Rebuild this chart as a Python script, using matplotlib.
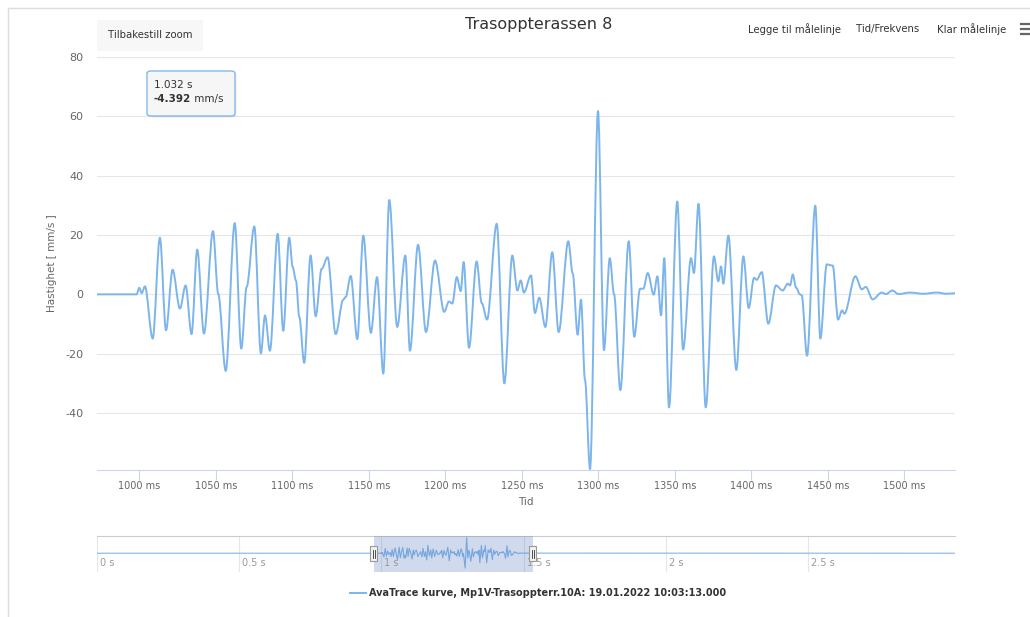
import matplotlib
matplotlib.use('Agg')
import matplotlib.pyplot as plt
from matplotlib.patches import Rectangle, FancyBboxPatch, PathPatch
from matplotlib.lines import Line2D
from matplotlib.path import Path
from matplotlib.text import Annotation
from matplotlib import transforms

plt.rcParams['axes.unicode_minus'] = False

W, H = 1030, 617

# trace (ms, mm/s)
time_ms = [972.4, 998.3, 1000.0, 1001.6, 1003.7, 1008.8, 1013.5, 1017.5, 1021.8, 1026.6,
           1030.3, 1034.2, 1037.9, 1042.3, 1048.2, 1051.6, 1056.5, 1062.4, 1066.7, 1070.2,
           1075.2, 1079.5, 1082.2, 1085.4, 1090.5, 1094.1, 1098.0, 1100.3, 1102.4, 1104.6,
           1107.8, 1112.0, 1115.3, 1119.2, 1123.1, 1128.4, 1133.3, 1134.9, 1138.2, 1142.5,
           1146.4, 1151.4, 1155.4, 1159.5, 1163.4, 1168.6, 1173.9, 1176.9, 1182.2, 1187.4,
           1193.3, 1199.3, 1202.4, 1204.6, 1207.5, 1210.1, 1212.0, 1215.5, 1220.5, 1223.8,
           1227.3, 1233.6, 1238.6, 1243.8, 1247.1, 1249.3, 1251.4, 1256.0, 1258.6, 1261.4,
           1265.4, 1269.9, 1274.1, 1280.4, 1283.3, 1286.5, 1288.7, 1291.3, 1294.6, 1299.8,
           1303.7, 1307.5, 1310.3, 1314.4, 1319.9, 1323.5, 1327.3, 1329.4, 1332.3, 1336.2,
           1338.6, 1341.0, 1343.1, 1346.2, 1351.6, 1355.4, 1360.6, 1362.5, 1365.5, 1370.2,
           1375.6, 1378.4, 1380.2, 1381.7, 1385.0, 1390.2, 1394.8, 1398.3, 1401.8, 1403.5,
           1406.8, 1411.1, 1416.1, 1420.5, 1423.8, 1425.3, 1427.1, 1429.2, 1431.8, 1432.9,
           1436.4, 1441.8, 1445.1, 1449.3, 1453.2, 1456.7, 1459.3, 1460.8, 1468.0, 1472.2,
           1474.8, 1479.3, 1485.2, 1488.0, 1492.2, 1496.1, 1503.7, 1512.4, 1521.2, 1527.7,
           1533.8]
velocity = [0.0, 0.0, 2.2, 0.4, 2.7, -14.9, 19.1, -12.1, 8.3, -4.8,
            3.0, -13.4, 15.1, -13.2, 21.3, 0.2, -25.8, 24.0, -18.3, 2.5,
            22.9, -19.9, -7.1, -19.0, 20.4, -12.3, 19.1, 9.2, 4.7, -7.6,
            -23.1, 13.1, -7.4, 8.6, 12.5, -13.4, -1.8, -0.9, 6.2, -15.1,
            19.8, -13.0, 5.8, -26.7, 31.8, -11.0, 13.1, -19.0, 16.7, -12.7,
            11.4, -5.9, -2.4, -3.1, 5.8, 1.1, 10.9, -18.0, 11.1, -2.9,
            -8.5, 23.8, -30.0, 13.1, 1.3, 4.7, 0.6, 6.4, -6.3, -1.1,
            -11.0, 14.2, -12.7, 17.9, 7.0, -13.6, -1.8, -28.9, -58.9, 61.8,
            -18.8, 12.2, 0.0, -32.3, 17.9, -14.3, 1.9, 1.9, 7.2, -0.1,
            6.1, -7.1, 12.2, -38.1, 31.3, -18.6, 12.2, 7.2, 30.5, -38.1,
            12.8, 4.4, 9.4, 3.6, 19.8, -25.5, 12.8, -4.6, 5.6, 4.9,
            7.5, -9.9, 3.0, 1.3, 3.6, 3.0, 6.7, 2.3, 0.0, -0.3,
            -20.7, 29.9, -14.9, 10.1, 9.7, -8.5, -5.4, -6.5, 6.1, 1.7,
            2.5, -1.7, 0.6, 0.1, 1.3, 0.1, 0.6, 0.2, 0.6, 0.2,
            0.4]

# whole record shown in the navigator (flat outside the zoomed window)
record_start = [0.0]
record_start_v = [0.0]
record_end = [3020.0]
record_end_v = [0.0]

view_ms = (972.4, 1533.1)
y_range = (-59.2, 80)
y_ticks = [-40, -20, 0, 20, 40, 60, 80]
x_ticks = [1000, 1050, 1100, 1150, 1200, 1250, 1300, 1350, 1400, 1450, 1500]
nav_ticks = [0, 500, 1000, 1500, 2000, 2500]

title = 'Trasoppterassen 8'
series_name = 'AvaTrace kurve, Mp1V-Trasoppterr.10A: 19.01.2022 10:03:13.000'
tip_time = '1.032 s'
tip_value = '-4.392'

LINE = '#7cb5ec'
TXT = '#333333'
LAB = '#666666'


def fx(x):
    return x / W


def fy(y):
    return 1 - y / H


def spline_path(xs, ys):
    # smooth curve through the read points, flat tangent at each point (spline look)
    verts = [(xs[0], ys[0])]
    codes = [Path.MOVETO]
    for i in range(1, len(xs)):
        dx = (xs[i] - xs[i - 1]) / 3
        verts += [(xs[i - 1] + dx, ys[i - 1]), (xs[i] - dx, ys[i]), (xs[i], ys[i])]
        codes += [Path.CURVE4] * 3
    return Path(verts, codes)


fig = plt.figure(figsize=(W / 100, H / 100), dpi=100)

# container frame
fig.add_artist(Line2D([fx(8), fx(8)], [fy(8), 0], color='#dddddd', lw=1))
fig.add_artist(Line2D([fx(8), 1], [fy(8), fy(8)], color='#dddddd', lw=1))

# main plot
ax = fig.add_axes([fx(97), fy(470), fx(955 - 97), (470 - 57) / H])
ax.add_patch(PathPatch(spline_path(time_ms, velocity), fill=False, edgecolor=LINE,
                       lw=1.4, zorder=3, capstyle='round', joinstyle='round'))
ax.set_xlim(*view_ms)
ax.set_ylim(*y_range)
ax.set_yticks(y_ticks)
ax.set_xticks(x_ticks)
ax.set_xticklabels([f'{t} ms' for t in x_ticks])
ax.grid(axis='y', color='#e6e6e6', lw=0.8)
ax.set_axisbelow(True)
for s in ['top', 'right', 'left']:
    ax.spines[s].set_visible(False)
ax.spines['bottom'].set_color('#ccd6eb')
ax.spines['bottom'].set_linewidth(0.8)
ax.tick_params(axis='x', length=7.2, width=0.8, color='#ccd6eb', labelcolor=LAB,
               labelsize=7, pad=1)
ax.tick_params(axis='y', length=0, labelcolor=LAB, labelsize=8, pad=10)
ax.set_xlabel('Tid', color=LAB, fontsize=7.5, labelpad=4)
fig.text(fx(52), fy(263), 'Hastighet [ mm/s ]', rotation=90, ha='center', va='center',
         color=LAB, fontsize=7.5)

# title and toolbar
fig.text(fx(539), fy(24), title, ha='center', va='center', fontsize=11.5, color=TXT)
fig.add_artist(Rectangle((fx(97), fy(50.5)), fx(106), 30.5 / H, transform=fig.transFigure,
                         facecolor='#f7f7f7', edgecolor='none'))
fig.text(fx(150), fy(35), 'Tilbakestill zoom', ha='center', va='center', fontsize=7.3, color=TXT)
for label, cx in [('Legge til målelinje', 794), ('Tid/Frekvens', 888), ('Klar målelinje', 971.5)]:
    fig.text(fx(cx), fy(29), label, ha='center', va='center', fontsize=7.3, color=TXT)
for yy in [24, 29, 34]:
    fig.add_artist(Line2D([fx(1021), fx(1030)], [fy(yy), fy(yy)], color='#666666', lw=1.6))

# tooltip
fig.add_artist(FancyBboxPatch((fx(148.5), fy(117.5)), fx(88), 45 / H,
                              boxstyle='round,pad=0,rounding_size=0.004',
                              transform=fig.transFigure, facecolor='#000000',
                              edgecolor='none', alpha=0.06, zorder=4))
fig.add_artist(FancyBboxPatch((fx(147), fy(116)), fx(88), 45 / H,
                              boxstyle='round,pad=0,rounding_size=0.004',
                              transform=fig.transFigure, facecolor='#f7f7f7',
                              edgecolor=LINE, lw=1, alpha=0.95, zorder=5))
fig.text(fx(154), fy(85), tip_time, ha='left', va='center', fontsize=7.5, color=TXT, zorder=6)
t1 = fig.text(fx(154), fy(99), tip_value, ha='left', va='center', fontsize=7.5,
              color=TXT, weight='bold', zorder=6)
unit = Annotation(' mm/s', xy=(1, 0.5), xycoords=t1, va='center', ha='left',
                  fontsize=7.5, color=TXT)
unit.set_zorder(6)
fig.add_artist(unit)

# navigator
nav = fig.add_axes([fx(97), fy(572), fx(955 - 97), 36 / H])
nav.plot(record_start + time_ms + record_end, record_start_v + velocity + record_end_v,
         color=LINE, lw=0.8, zorder=2)
nav.set_xlim(0, 3017)
nav.set_ylim(-74.8, 68.6)
nav.set_xticks(nav_ticks)
nav.set_yticks([])
nav.grid(axis='x', color='#e6e6e6', lw=0.8)
nav.set_axisbelow(True)
nav.tick_params(axis='x', length=0, labelbottom=False)
for s in ['bottom', 'right', 'left']:
    nav.spines[s].set_visible(False)
nav.spines['top'].set_color('#cccccc')
nav.spines['top'].set_linewidth(0.8)
nav.axvspan(view_ms[0], view_ms[1], color=(102 / 255, 133 / 255, 194 / 255), alpha=0.3,
            lw=0, zorder=3)
lab_tr = transforms.offset_copy(transforms.blended_transform_factory(nav.transData, nav.transAxes),
                                fig=fig, x=3, y=0, units='dots')
for t in nav_ticks:
    nav.text(t, 0.25, f'{t / 1000:g} s', transform=lab_tr, ha='left', va='center',
             fontsize=7, color='#999999')

# navigator handles
fig.canvas.draw()
for edge in view_ms:
    xd = nav.transData.transform((edge, 0))[0]
    fig.add_artist(Rectangle((fx(xd - 3.5), fy(561)), fx(7), 15 / H, transform=fig.transFigure,
                             facecolor='#f2f2f2', edgecolor='#999999', lw=0.8, zorder=6))
    for dx in (-1, 1):
        fig.add_artist(Line2D([fx(xd + dx), fx(xd + dx)], [fy(550), fy(558)],
                              color='#333333', lw=0.6, zorder=7))

# legend
fig.add_artist(Line2D([fx(350), fx(366)], [fy(593), fy(593)], color=LINE, lw=1.4))
fig.text(fx(369), fy(593), series_name, ha='left', va='center', fontsize=7.0,
         color=TXT, weight='bold')

fig.savefig('out.png', dpi=100)
